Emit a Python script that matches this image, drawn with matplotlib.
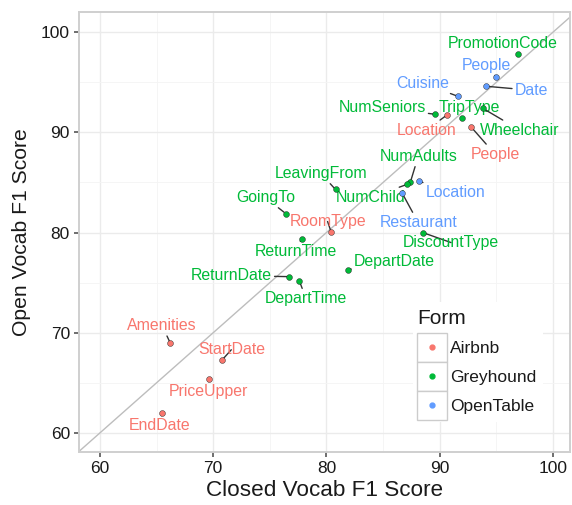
import matplotlib.pyplot as plt
from matplotlib.patches import Rectangle
import numpy as np

plt.rcParams['font.family'] = ['Liberation Sans', 'DejaVu Sans']

# data
slots = ['PromotionCode', 'People', 'Date', 'Cuisine', 'NumSeniors', 'Location',
         'TripType', 'Wheelchair', 'People', 'NumAdults', 'NumChild', 'Location',
         'Restaurant', 'DiscountType', 'LeavingFrom', 'GoingTo', 'RoomType',
         'ReturnTime', 'DepartDate', 'ReturnDate', 'DepartTime', 'Amenities',
         'StartDate', 'PriceUpper', 'EndDate']
forms = ['Greyhound', 'OpenTable', 'OpenTable', 'OpenTable', 'Greyhound', 'Airbnb',
         'Greyhound', 'Greyhound', 'Airbnb', 'Greyhound', 'Greyhound', 'OpenTable',
         'OpenTable', 'Greyhound', 'Greyhound', 'Greyhound', 'Airbnb',
         'Greyhound', 'Greyhound', 'Greyhound', 'Greyhound', 'Airbnb',
         'Airbnb', 'Airbnb', 'Airbnb']
closed_f1 = [96.9, 95.0, 94.1, 91.6, 89.6, 90.6, 92.0, 93.8, 92.8, 87.4, 87.1, 88.2,
             86.7, 88.5, 80.8, 76.4, 80.4, 77.8, 81.9, 76.7, 77.6, 66.2, 70.8, 69.6, 65.5]
open_f1 = [97.8, 95.5, 94.6, 93.6, 91.8, 91.7, 91.4, 92.4, 90.5, 85.0, 84.8, 85.1,
           83.9, 80.0, 84.3, 81.9, 80.1, 79.4, 76.3, 75.6, 75.2, 69.0, 67.3, 65.4, 62.0]

# where the repelled labels ended up (data coords)
label_pos = [(95.6, 98.9), (94.1, 96.7), (98.1, 94.2), (88.5, 94.9), (84.9, 92.5),
             (88.8, 90.2), (92.6, 92.5), (97.1, 90.2), (94.9, 87.8), (88.1, 87.6),
             (83.9, 83.5), (91.4, 84.0), (88.1, 81.0), (91.0, 79.0), (79.5, 85.9),
             (74.6, 83.5), (80.1, 81.1), (77.3, 78.1), (86.0, 77.1), (71.6, 75.7),
             (78.2, 73.4), (65.5, 70.7), (71.6, 68.3), (69.6, 64.1), (65.3, 60.7)]

form_names = ['Airbnb', 'Greyhound', 'OpenTable']
form_colors = {'Airbnb': '#F8766D', 'Greyhound': '#00BA38', 'OpenTable': '#619CFF'}

fig = plt.figure(figsize=(5.72, 5.05), dpi=100)
ax = fig.add_axes([0.138, 0.105, 0.8585, 0.871])

ax.set_xlim(58.15, 101.5)
ax.set_ylim(58.1, 102.0)

# diagonal y = x
d = np.array([50, 110])
ax.plot(d, d, color='#BDBDBD', linewidth=1.0, zorder=1)

for name, f, cx, oy, (lx, ly) in zip(slots, forms, closed_f1, open_f1, label_pos):
    c = form_colors[f]
    ax.plot(cx, oy, 'o', color=c, markersize=4.2, markeredgecolor='#1a1a1a',
            markeredgewidth=0.3, zorder=4)
    ax.annotate(name, xy=(cx, oy), xytext=(lx, ly), textcoords='data',
                ha='center', va='center', fontsize=11.4, color=c, zorder=3,
                arrowprops=dict(arrowstyle='-', color='#333333', linewidth=1.0,
                                shrinkA=0, shrinkB=1.5))

# grid
ax.set_xticks([60, 70, 80, 90, 100])
ax.set_yticks([60, 70, 80, 90, 100])
ax.set_xticks([65, 75, 85, 95], minor=True)
ax.set_yticks([65, 75, 85, 95], minor=True)
ax.grid(True, which='major', color='#EBEBEB', linewidth=1.0, zorder=0)
ax.grid(True, which='minor', color='#F4F4F4', linewidth=0.6, zorder=0)
ax.set_axisbelow(True)
ax.tick_params(which='minor', length=0)
ax.tick_params(which='major', length=3.5, width=1.2, color='#555555',
               labelsize=12.5, labelcolor='#1a1a1a', pad=3)
for s in ax.spines.values():
    s.set_color('#CFCFCF')
    s.set_linewidth(1.4)

ax.set_xlabel('Closed Vocab F1 Score', fontsize=16.2, color='#1a1a1a', labelpad=3)
ax.set_ylabel('Open Vocab F1 Score', fontsize=15.2, color='#1a1a1a', labelpad=7)

# legend drawn by hand, ggplot style (boxed keys, white background)
tr = ax.transAxes
ax.add_patch(Rectangle((0.681, 0.068), 0.265, 0.272, transform=tr,
                       facecolor='white', edgecolor='none', zorder=5))
ax.text(0.688, 0.3045, 'Form', transform=tr, fontsize=15, color='#1a1a1a',
        ha='left', va='center', zorder=6)
key_h = 0.0659
for i, f in enumerate(form_names):
    top = 0.2705 - i * key_h
    ax.add_patch(Rectangle((0.688, top - key_h), 0.0611, key_h, transform=tr,
                           facecolor='white', edgecolor='#CCCCCC', linewidth=1.0,
                           zorder=6))
    ax.plot(0.7185, top - key_h / 2, 'o', color=form_colors[f], markersize=3.5,
            transform=tr, zorder=7)
    ax.text(0.7556, top - key_h / 2 - 0.002, f, transform=tr, fontsize=12.5,
            color='#1a1a1a', ha='left', va='center', zorder=7)

fig.savefig('out.png', dpi=100)
